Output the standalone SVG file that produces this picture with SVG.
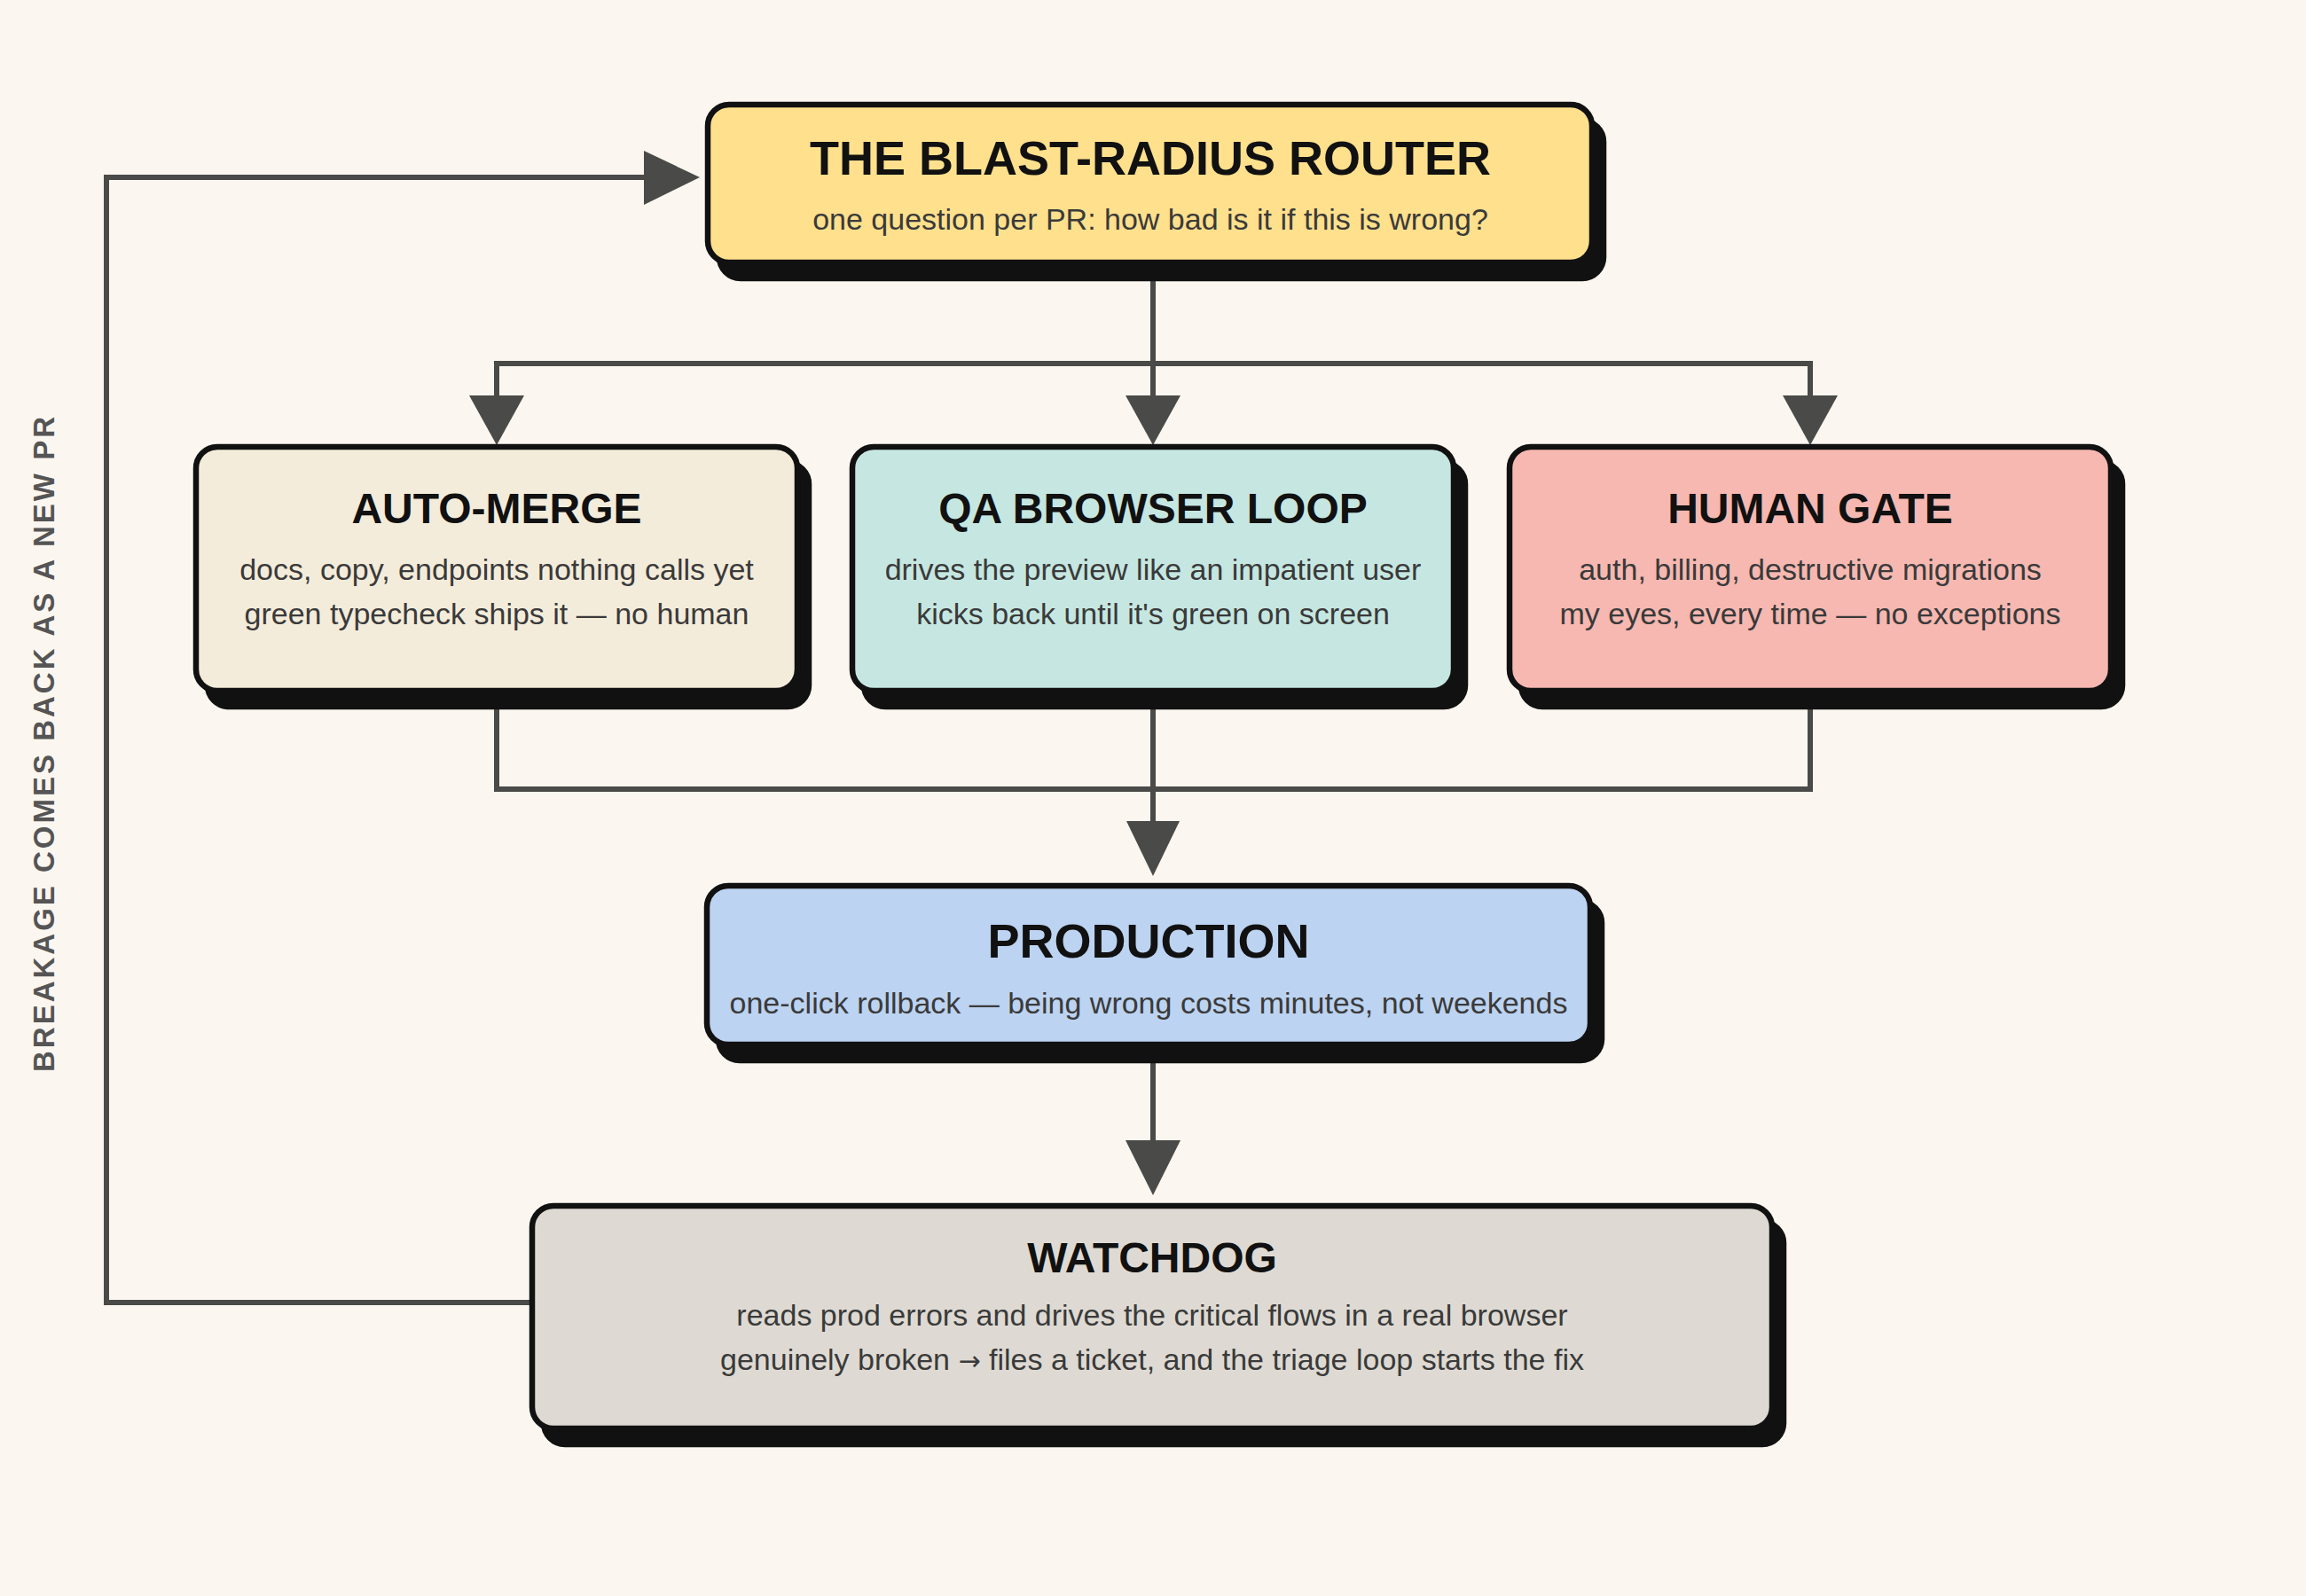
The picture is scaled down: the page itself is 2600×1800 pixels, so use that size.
<svg xmlns="http://www.w3.org/2000/svg" width="2600" height="1800" viewBox="0 0 2600 1800">
  <defs>
    <style>
      .bg { fill: #FBF7F0; }
      .shadow { fill: #111111; stroke: #111111; stroke-width: 6.5; }
      .box { stroke: #111111; stroke-width: 6.5; }
      .title { font-family: "Liberation Sans", Arial, Helvetica, sans-serif; font-weight: 700; fill: #111111; text-anchor: middle; }
      .t54 { font-size: 54px; }
      .t48 { font-size: 48px; }
      .body { font-family: "Liberation Sans", Arial, Helvetica, sans-serif; font-size: 34px; fill: #3a3a3a; text-anchor: middle; }
      .arrow { font-family: "DejaVu Sans", sans-serif; font-size: 30px; }
      .wire { fill: none; stroke: #4A4A48; stroke-width: 6; stroke-linejoin: miter; }
      .head { fill: #4A4A48; }
      .side { font-family: "Liberation Sans", Arial, Helvetica, sans-serif; font-size: 33px; font-weight: 700; fill: #555555; letter-spacing: 3px; text-anchor: middle; }
    </style>
  </defs>
  <rect class="bg" x="0" y="0" width="2600" height="1800"/>

  <g id="connectors">
    <path class="wire" d="M1300 298 V446"/>
    <path class="wire" d="M560 446 V410 H2041 V446"/>
    <polygon class="head" points="1269,446 1331,446 1300,502"/>
    <polygon class="head" points="529,446 591,446 560,502"/>
    <polygon class="head" points="2010,446 2072,446 2041,502"/>
    <path class="wire" d="M560 782 V890 H2041 V782"/>
    <path class="wire" d="M1300 782 V926"/>
    <polygon class="head" points="1270,926 1330,926 1300,988"/>
    <path class="wire" d="M1300 1181 V1286"/>
    <polygon class="head" points="1269,1286 1331,1286 1300,1348"/>
    <path class="wire" d="M598 1469 H120 V200 H726"/>
    <polygon class="head" points="726,170 726,231 789,200"/>
  </g>

  <g id="side-label">
    <text class="side" transform="translate(61,838) rotate(-90)" x="0" y="0">BREAKAGE COMES BACK AS A NEW PR</text>
  </g>

  <g id="router">
    <rect class="shadow" x="811" y="136" width="997" height="178" rx="24"/>
    <rect class="box" x="798" y="118" width="997" height="178" rx="24" fill="#FFE08C"/>
    <text class="title t54" x="1297" y="197">THE BLAST-RADIUS ROUTER</text>
    <text class="body" x="1297" y="259">one question per PR: how bad is it if this is wrong?</text>
  </g>

  <g id="auto-merge">
    <rect class="shadow" x="234" y="522" width="678" height="275" rx="24"/>
    <rect class="box" x="221" y="504" width="678" height="275" rx="24" fill="#F4ECDA"/>
    <text class="title t48" x="560" y="590">AUTO-MERGE</text>
    <text class="body" x="560" y="654">docs, copy, endpoints nothing calls yet</text>
    <text class="body" x="560" y="704">green typecheck ships it — no human</text>
  </g>

  <g id="qa-browser-loop">
    <rect class="shadow" x="974" y="522" width="678" height="275" rx="24"/>
    <rect class="box" x="961" y="504" width="678" height="275" rx="24" fill="#C6E7E1"/>
    <text class="title t48" x="1300" y="590">QA BROWSER LOOP</text>
    <text class="body" x="1300" y="654">drives the preview like an impatient user</text>
    <text class="body" x="1300" y="704">kicks back until it's green on screen</text>
  </g>

  <g id="human-gate">
    <rect class="shadow" x="1715" y="522" width="678" height="275" rx="24"/>
    <rect class="box" x="1702" y="504" width="678" height="275" rx="24" fill="#F6B8B1"/>
    <text class="title t48" x="2041" y="590">HUMAN GATE</text>
    <text class="body" x="2041" y="654">auth, billing, destructive migrations</text>
    <text class="body" x="2041" y="704">my eyes, every time — no exceptions</text>
  </g>

  <g id="production">
    <rect class="shadow" x="810" y="1017" width="996" height="179" rx="24"/>
    <rect class="box" x="797" y="999" width="996" height="179" rx="24" fill="#BCD3F1"/>
    <text class="title t54" x="1295" y="1080">PRODUCTION</text>
    <text class="body" x="1295" y="1143">one-click rollback — being wrong costs minutes, not weekends</text>
  </g>

  <g id="watchdog">
    <rect class="shadow" x="613" y="1378" width="1398" height="251" rx="24"/>
    <rect class="box" x="600" y="1360" width="1398" height="251" rx="24" fill="#DEDAD3"/>
    <text class="title t48" x="1299" y="1435">WATCHDOG</text>
    <text class="body" x="1299" y="1495">reads prod errors and drives the critical flows in a real browser</text>
    <text class="body" x="1299" y="1545">genuinely broken <tspan class="arrow">→</tspan> files a ticket, and the triage loop starts the fix</text>
  </g>
</svg>
